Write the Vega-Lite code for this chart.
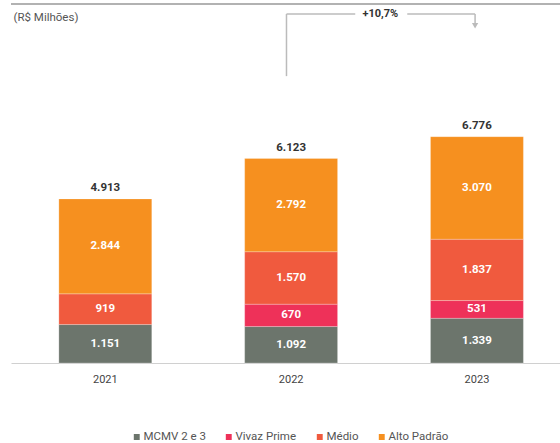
{
  "$schema": "https://vega.github.io/schema/vega-lite/v6.json",
  "width": 550,
  "height": 359,
  "padding": {"left": 10, "top": 3, "right": 0, "bottom": 0},
  "datasets": {
    "segs": [
      {"ano": "2021", "segmento": "MCMV 2 e 3", "ordem": 1, "valor": 1151},
      {"ano": "2021", "segmento": "Médio", "ordem": 3, "valor": 919},
      {"ano": "2021", "segmento": "Alto Padrão", "ordem": 4, "valor": 2844},
      {"ano": "2022", "segmento": "MCMV 2 e 3", "ordem": 1, "valor": 1092},
      {"ano": "2022", "segmento": "Vivaz Prime", "ordem": 2, "valor": 670},
      {"ano": "2022", "segmento": "Médio", "ordem": 3, "valor": 1570},
      {"ano": "2022", "segmento": "Alto Padrão", "ordem": 4, "valor": 2792},
      {"ano": "2023", "segmento": "MCMV 2 e 3", "ordem": 1, "valor": 1339},
      {"ano": "2023", "segmento": "Vivaz Prime", "ordem": 2, "valor": 531},
      {"ano": "2023", "segmento": "Médio", "ordem": 3, "valor": 1837},
      {"ano": "2023", "segmento": "Alto Padrão", "ordem": 4, "valor": 3070}
    ],
    "totais": [
      {"ano": "2021", "total": 4913},
      {"ano": "2022", "total": 6123},
      {"ano": "2023", "total": 6776}
    ],
    "anot": [
      {"label": "+10,7%"}
    ]
  },
  "config": {
    "font": "Roboto",
    "view": {"stroke": null},
    "locale": {"number": {"decimal": ",", "thousands": ".", "grouping": [3], "currency": ["R$", ""]}}
  },
  "encoding": {
    "x": {
      "field": "ano", "type": "nominal",
      "scale": {"domain": ["2021", "2022", "2023"], "paddingInner": 0.5, "paddingOuter": 0.23, "align": 0.56},
      "axis": {"title": null, "labelAngle": 0, "ticks": false, "domainColor": "#d0d0d0", "domainWidth": 1.2, "labelColor": "#444", "labelFontSize": 11, "labelPadding": 10}
    }
  },
  "layer": [
    {
      "data": {"name": "segs"},
      "mark": {"type": "bar", "stroke": "#ffffff", "strokeWidth": 0.4, "strokeOpacity": 0.6},
      "encoding": {
        "y": {
          "field": "valor", "type": "quantitative", "stack": "zero",
          "scale": {"domain": [0, 10750], "nice": false},
          "axis": {"title": "(R$ Milhões)", "labels": false, "ticks": false, "domain": false, "grid": false, "titleAngle": 0, "titleAlign": "left", "titleBaseline": "top", "titleX": 2, "titleY": 7, "titleFontSize": 11.5, "titleFontWeight": "normal", "titleColor": "#555"}
        },
        "color": {
          "field": "segmento", "type": "nominal",
          "scale": {"domain": ["MCMV 2 e 3", "Vivaz Prime", "Médio", "Alto Padrão"], "range": ["#6c756c", "#ee3159", "#f05a3e", "#f6901f"]},
          "legend": {"title": null, "orient": "none", "legendX": 120, "legendY": 427, "direction": "horizontal", "symbolType": "square", "symbolSize": 55, "labelFontSize": 11.5, "labelColor": "#555", "columnPadding": 16, "symbolOffset": 0, "labelOffset": 1}
        },
        "order": {"field": "ordem", "type": "quantitative"}
      }
    },
    {
      "data": {"name": "segs"},
      "mark": {"type": "text", "color": "#ffffff", "fontWeight": "bold", "fontSize": 11.5, "baseline": "middle"},
      "encoding": {
        "y": {"field": "valor", "type": "quantitative", "stack": "zero", "bandPosition": 0.5},
        "text": {"field": "valor", "type": "quantitative", "format": ",d"},
        "order": {"field": "ordem", "type": "quantitative"}
      }
    },
    {
      "data": {"name": "totais"},
      "mark": {"type": "text", "color": "#333", "fontWeight": "bold", "fontSize": 11.5, "baseline": "bottom", "dy": -6},
      "encoding": {
        "y": {"field": "total", "type": "quantitative"},
        "text": {"field": "total", "type": "quantitative", "format": ",d"}
      }
    },
    {
      "data": {"name": "anot"},
      "mark": {"type": "rule", "color": "#999", "strokeWidth": 1.6},
      "encoding": {"x": null, "y": {"datum": 10750}}
    },
    {
      "data": {"name": "anot"},
      "mark": {"type": "rule", "color": "#bbb", "strokeWidth": 1.5},
      "encoding": {
        "x": {"datum": "2022", "bandPosition": 0.45},
        "y": {"datum": 8590},
        "y2": {"datum": 10450}
      }
    },
    {
      "data": {"name": "anot"},
      "mark": {"type": "rule", "color": "#bbb", "strokeWidth": 1.5},
      "encoding": {
        "x": {"datum": "2022", "bandPosition": 0.45},
        "x2": {"datum": "2022", "bandPosition": 1.19},
        "y": {"datum": 10450}
      }
    },
    {
      "data": {"name": "anot"},
      "mark": {"type": "rule", "color": "#bbb", "strokeWidth": 1.5},
      "encoding": {
        "x": {"datum": "2022", "bandPosition": 1.75},
        "x2": {"datum": "2023", "bandPosition": 0.48},
        "y": {"datum": 10450}
      }
    },
    {
      "data": {"name": "anot"},
      "mark": {"type": "rule", "color": "#bbb", "strokeWidth": 1.5},
      "encoding": {
        "x": {"datum": "2023", "bandPosition": 0.48},
        "y": {"datum": 10450},
        "y2": {"datum": 10150}
      }
    },
    {
      "data": {"name": "anot"},
      "mark": {"type": "point", "shape": "triangle-down", "filled": true, "color": "#bbb", "size": 40, "opacity": 1},
      "encoding": {
        "x": {"datum": "2023", "bandPosition": 0.48},
        "y": {"datum": 10100}
      }
    },
    {
      "data": {"name": "anot"},
      "mark": {"type": "text", "color": "#333", "fontWeight": "bold", "fontSize": 11, "baseline": "middle"},
      "encoding": {
        "x": {"datum": "2022", "bandPosition": 1.46},
        "y": {"datum": 10450},
        "text": {"field": "label"}
      }
    }
  ]
}
